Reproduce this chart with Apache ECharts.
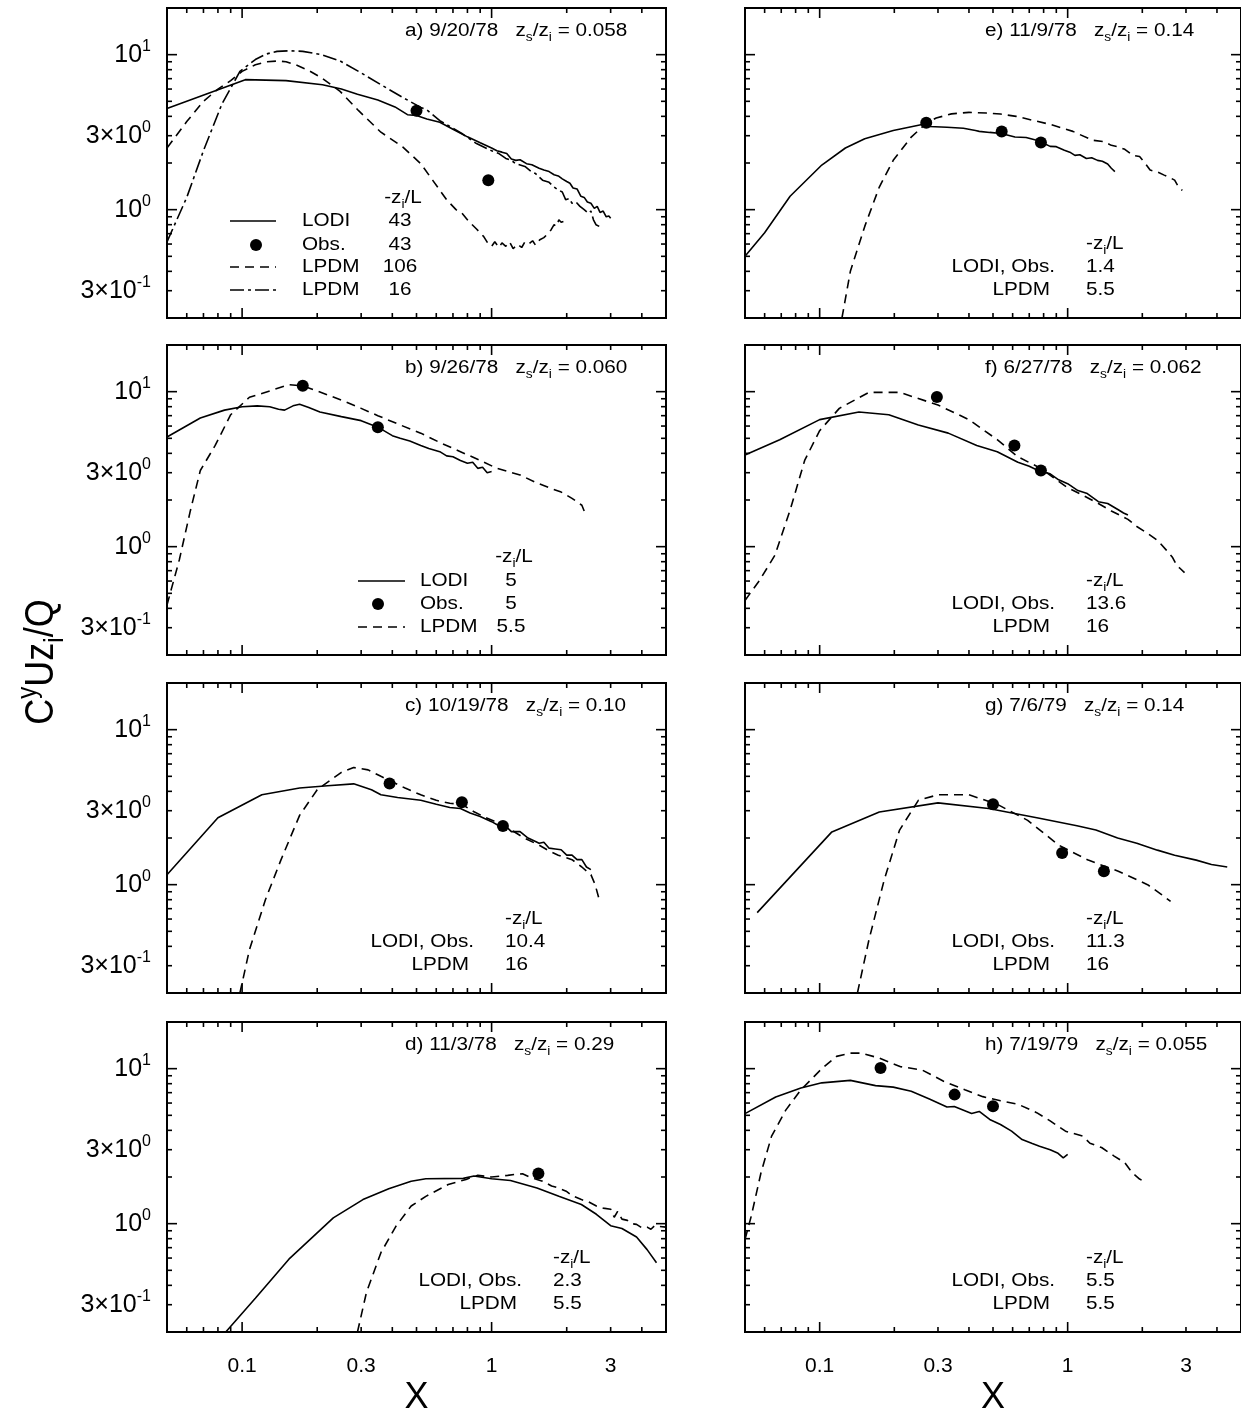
<!DOCTYPE html>
<html>
<head>
<meta charset="utf-8">
<script src="https://cdn.jsdelivr.net/npm/echarts@6/dist/echarts.min.js"></script>
<style>
html, body { margin: 0; padding: 0; background: #fff; }
#chart { width: 1241px; height: 1418px; }
</style>
</head>
<body>
<div id="chart"></div>
<script>
// values: [X, C^y U z_i / Q]
var aLodi = [[0.05,4.5],[0.103,6.9],[0.15,6.8],[0.21,6.4],[0.25,6.0],[0.29,5.55],[0.35,5.1],[0.41,4.6],[0.46,4.1],[0.5,4.05],[0.55,3.85],[0.62,3.66],[0.7,3.3],[0.8,2.95],[0.9,2.7],[1.0,2.5],[1.05,2.4],[1.1,2.35],[1.15,2.3],[1.2,2.12],[1.25,2.08],[1.3,2.1],[1.38,1.98],[1.45,1.95],[1.55,1.85],[1.62,1.8],[1.7,1.76],[1.78,1.68],[1.85,1.65],[1.92,1.58],[2.0,1.52],[2.06,1.48],[2.12,1.38],[2.2,1.36],[2.28,1.22],[2.35,1.2],[2.42,1.12],[2.5,1.1],[2.58,1.02],[2.65,1.05],[2.72,0.96],[2.8,0.98],[2.88,0.9],[2.95,0.91],[3.0,0.88]];
var aObs = [[0.5,4.35],[0.97,1.55]];
var aLpdm = [[0.05,2.5],[0.06,3.7],[0.07,5.0],[0.08,6.0],[0.09,6.8],[0.1,7.8],[0.113,8.6],[0.125,9.0],[0.138,9.1],[0.15,9.0],[0.164,8.6],[0.185,7.9],[0.208,7.1],[0.247,5.8],[0.293,4.35],[0.36,3.16],[0.44,2.54],[0.52,1.98],[0.58,1.55],[0.66,1.16],[0.72,1.0],[0.76,0.95],[0.81,0.84],[0.87,0.75],[0.93,0.67],[0.97,0.6],[1.0,0.58],[1.03,0.62],[1.07,0.57],[1.1,0.61],[1.14,0.58],[1.18,0.62],[1.22,0.56],[1.27,0.6],[1.32,0.57],[1.36,0.62],[1.41,0.6],[1.46,0.63],[1.5,0.59],[1.56,0.64],[1.62,0.66],[1.68,0.7],[1.73,0.74],[1.78,0.8],[1.82,0.78],[1.86,0.86],[1.9,0.83],[1.94,0.84]];
var aLpdm16 = [[0.05,0.62],[0.06,1.2],[0.07,2.4],[0.083,4.8],[0.098,7.8],[0.113,9.3],[0.125,10.1],[0.138,10.5],[0.155,10.6],[0.175,10.5],[0.208,10.0],[0.247,9.1],[0.293,7.8],[0.36,6.4],[0.44,5.3],[0.52,4.57],[0.55,4.4],[0.62,3.75],[0.7,3.35],[0.76,3.1],[0.87,2.67],[1.0,2.4],[1.07,2.3],[1.14,2.14],[1.2,2.08],[1.25,1.98],[1.36,1.9],[1.45,1.75],[1.5,1.71],[1.6,1.55],[1.7,1.5],[1.78,1.4],[1.85,1.34],[1.92,1.3],[1.98,1.16],[2.05,1.18],[2.1,1.1],[2.18,1.12],[2.26,1.05],[2.35,1.0],[2.44,0.95],[2.5,0.98],[2.56,0.86],[2.62,0.8],[2.7,0.78]];

var bLodi = [[0.05,5.1],[0.068,6.76],[0.085,7.6],[0.1,8.0],[0.115,8.1],[0.129,8.0],[0.14,7.7],[0.148,7.6],[0.16,8.1],[0.17,8.3],[0.185,7.9],[0.205,7.4],[0.25,6.9],[0.3,6.5],[0.35,5.9],[0.4,5.2],[0.43,5.0],[0.47,4.8],[0.52,4.5],[0.56,4.3],[0.62,4.1],[0.66,3.85],[0.7,3.8],[0.75,3.6],[0.8,3.45],[0.84,3.5],[0.88,3.2],[0.92,3.25],[0.96,3.0],[1.0,3.05]];
var bObs = [[0.175,10.9],[0.35,5.9]];
var bLpdm = [[0.05,0.42],[0.056,0.82],[0.062,1.7],[0.068,3.1],[0.078,4.5],[0.09,7.1],[0.107,9.2],[0.129,10.1],[0.154,11.1],[0.175,10.9],[0.2,10.1],[0.225,9.4],[0.26,8.6],[0.3,7.8],[0.35,7.0],[0.43,6.1],[0.52,5.4],[0.62,4.7],[0.75,4.1],[0.9,3.6],[1.05,3.2],[1.3,2.9],[1.5,2.6],[1.7,2.4],[1.9,2.25],[2.1,2.05],[2.2,1.95],[2.3,1.85],[2.35,1.7]];

var cLodi = [[0.05,1.16],[0.08,2.7],[0.12,3.8],[0.17,4.2],[0.22,4.35],[0.28,4.47],[0.33,4.1],[0.36,3.8],[0.42,3.65],[0.52,3.5],[0.6,3.3],[0.68,3.15],[0.75,3.1],[0.82,2.9],[0.9,2.75],[1.0,2.55],[1.07,2.4],[1.15,2.35],[1.2,2.2],[1.3,2.2],[1.4,2.0],[1.5,1.9],[1.55,1.85],[1.62,1.88],[1.7,1.72],[1.8,1.7],[1.9,1.68],[2.0,1.55],[2.1,1.55],[2.2,1.45],[2.3,1.45],[2.4,1.3],[2.5,1.25]];
var cObs = [[0.39,4.5],[0.76,3.4],[1.11,2.39]];
var cLpdm = [[0.098,0.2],[0.107,0.38],[0.124,0.8],[0.143,1.44],[0.17,2.8],[0.2,4.1],[0.25,5.3],[0.28,5.7],[0.32,5.5],[0.36,5.0],[0.39,4.7],[0.45,4.2],[0.52,3.8],[0.6,3.5],[0.68,3.35],[0.76,3.3],[0.85,2.95],[0.95,2.7],[1.07,2.5],[1.2,2.25],[1.35,2.0],[1.55,1.8],[1.7,1.65],[1.85,1.55],[2.1,1.45],[2.3,1.3],[2.5,1.16],[2.6,1.0],[2.7,0.8]];

var dLodi = [[0.086,0.2],[0.113,0.33],[0.154,0.59],[0.232,1.09],[0.305,1.43],[0.387,1.68],[0.476,1.88],[0.545,1.95],[0.77,1.96],[0.85,2.03],[1.0,1.95],[1.19,1.9],[1.52,1.7],[1.86,1.5],[2.29,1.33],[2.63,1.15],[3.0,0.97],[3.33,0.93],[3.81,0.82],[4.2,0.68],[4.58,0.56]];
var dObs = [[1.54,2.11]];
var dLpdm = [[0.29,0.2],[0.315,0.36],[0.36,0.65],[0.415,0.97],[0.476,1.3],[0.545,1.5],[0.67,1.79],[0.79,1.93],[0.88,2.05],[1.0,2.0],[1.1,2.03],[1.16,2.05],[1.25,2.08],[1.33,2.1],[1.42,2.0],[1.52,1.93],[1.6,1.88],[1.74,1.75],[1.85,1.7],[1.99,1.62],[2.1,1.52],[2.29,1.43],[2.45,1.38],[2.63,1.3],[2.8,1.26],[3.0,1.24],[3.1,1.1],[3.2,1.2],[3.33,1.07],[3.5,1.05],[3.65,1.0],[3.81,0.99],[4.0,0.94],[4.2,0.95],[4.35,0.92],[4.5,0.97],[4.7,0.96],[5.0,0.95]];

var eLodi = [[0.05,0.5],[0.06,0.71],[0.076,1.22],[0.102,1.94],[0.127,2.5],[0.152,2.87],[0.198,3.24],[0.259,3.54],[0.277,3.44],[0.326,3.4],[0.38,3.35],[0.425,3.24],[0.44,3.2],[0.485,3.15],[0.54,3.1],[0.613,2.94],[0.68,2.92],[0.75,2.8],[0.8,2.68],[0.85,2.56],[0.9,2.55],[0.97,2.42],[1.02,2.35],[1.07,2.24],[1.12,2.26],[1.19,2.14],[1.25,2.16],[1.32,2.08],[1.38,2.05],[1.45,1.97],[1.5,1.85],[1.55,1.76]];
var eObs = [[0.269,3.64],[0.542,3.19],[0.78,2.71]];
var eLpdm = [[0.123,0.2],[0.133,0.4],[0.152,0.78],[0.174,1.4],[0.198,2.08],[0.234,2.94],[0.269,3.6],[0.295,3.9],[0.34,4.15],[0.4,4.24],[0.47,4.2],[0.536,4.14],[0.62,4.0],[0.75,3.72],[0.85,3.55],[0.97,3.32],[1.05,3.2],[1.12,3.05],[1.27,2.8],[1.4,2.75],[1.5,2.6],[1.6,2.54],[1.7,2.45],[1.83,2.24],[1.95,2.2],[2.05,2.0],[2.15,1.8],[2.3,1.75],[2.45,1.67],[2.6,1.6],[2.7,1.55],[2.8,1.4],[2.9,1.33]];

var fLodi = [[0.05,3.9],[0.069,4.9],[0.1,6.6],[0.144,7.4],[0.19,7.1],[0.25,6.1],[0.33,5.4],[0.43,4.5],[0.52,4.1],[0.63,3.5],[0.7,3.3],[0.76,3.1],[0.85,2.95],[0.92,2.7],[1.0,2.55],[1.1,2.3],[1.2,2.2],[1.33,1.95],[1.45,1.9],[1.6,1.73],[1.68,1.65],[1.75,1.6]];
var fObs = [[0.297,9.25],[0.61,4.5],[0.78,3.1]];
var fLpdm = [[0.05,0.45],[0.057,0.6],[0.066,0.88],[0.076,1.72],[0.087,3.6],[0.1,5.6],[0.12,7.8],[0.158,9.9],[0.21,9.9],[0.3,8.2],[0.4,6.6],[0.52,4.9],[0.63,3.8],[0.78,3.2],[0.9,2.7],[1.0,2.4],[1.15,2.15],[1.33,1.9],[1.5,1.7],[1.75,1.5],[1.9,1.35],[2.05,1.25],[2.3,1.1],[2.5,0.95],[2.65,0.85],[2.75,0.76],[2.85,0.72],[2.96,0.68]];

var gLodi = [[0.056,0.66],[0.112,2.19],[0.174,2.94],[0.3,3.37],[0.48,3.1],[0.76,2.69],[1.09,2.4],[1.3,2.25],[1.59,2.0],[1.9,1.85],[2.3,1.67],[2.7,1.55],[3.3,1.44],[3.8,1.35],[4.4,1.3]];
var gObs = [[0.5,3.3],[0.95,1.6],[1.4,1.22]];
var gLpdm = [[0.142,0.2],[0.158,0.44],[0.182,1.07],[0.21,2.25],[0.25,3.5],[0.3,3.8],[0.4,3.8],[0.52,3.3],[0.69,2.6],[0.92,1.8],[1.21,1.44],[1.6,1.22],[2.1,1.0],[2.4,0.86],[2.6,0.78]];

var hLodi = [[0.05,5.13],[0.0665,6.57],[0.084,7.5],[0.102,8.1],[0.133,8.4],[0.168,7.77],[0.198,7.6],[0.234,7.15],[0.277,6.38],[0.326,5.66],[0.349,5.7],[0.41,5.13],[0.44,5.3],[0.485,4.7],[0.536,4.36],[0.594,3.95],[0.655,3.49],[0.72,3.29],[0.77,3.16],[0.85,3.0],[0.91,2.86],[0.96,2.66],[1.0,2.8]];
var hObs = [[0.176,10.1],[0.35,6.8],[0.5,5.72]];
var hLpdm = [[0.05,0.79],[0.053,1.12],[0.058,2.13],[0.064,3.67],[0.073,5.4],[0.084,7.3],[0.102,10.0],[0.117,12.0],[0.133,12.6],[0.147,12.6],[0.174,11.7],[0.212,10.3],[0.259,9.8],[0.316,8.3],[0.385,7.3],[0.455,6.6],[0.536,6.2],[0.63,5.9],[0.75,5.2],[0.85,4.6],[0.98,3.95],[1.15,3.67],[1.23,3.3],[1.37,3.1],[1.54,2.73],[1.7,2.47],[1.82,2.13],[1.95,1.94],[2.05,1.86]];

// axes
var xTickLabels = [0.1, 0.3, 1, 3];
var xTickText = ['0.1', '0.3', '1', '3'];
var yTickLabels = [0.3, 1, 3, 10];
var yTickText = ['{n|3\u00d710}{p|-1}', '{n|10}{p|0}', '{n|3\u00d710}{p|0}', '{n|10}{p|1}'];
var xMajor = [0.1, 1];
var xMinor = [0.06, 0.07, 0.08, 0.09, 0.2, 0.3, 0.4, 0.5, 0.6, 0.7, 0.8, 0.9, 2, 3, 4];
var yMajor = [1, 10];
var yMinor = [0.3, 0.4, 0.5, 0.6, 0.7, 0.8, 0.9, 2, 3, 4, 5, 6, 7, 8, 9];

var panels = [
  {key: 'a', date: '9/20/78', zs: '0.058', lodi: aLodi, obs: aObs, lpdm: aLpdm, lpdm2: aLpdm16, ziL: ['43', '43', '106', '16']},
  {key: 'b', date: '9/26/78', zs: '0.060', lodi: bLodi, obs: bObs, lpdm: bLpdm, ziL: ['5', '5', '5.5']},
  {key: 'c', date: '10/19/78', zs: '0.10', lodi: cLodi, obs: cObs, lpdm: cLpdm, ziL: ['10.4', '16']},
  {key: 'd', date: '11/3/78', zs: '0.29', lodi: dLodi, obs: dObs, lpdm: dLpdm, ziL: ['2.3', '5.5']},
  {key: 'e', date: '11/9/78', zs: '0.14', lodi: eLodi, obs: eObs, lpdm: eLpdm, ziL: ['1.4', '5.5']},
  {key: 'f', date: '6/27/78', zs: '0.062', lodi: fLodi, obs: fObs, lpdm: fLpdm, ziL: ['13.6', '16']},
  {key: 'g', date: '7/6/79', zs: '0.14', lodi: gLodi, obs: gObs, lpdm: gLpdm, ziL: ['11.3', '16']},
  {key: 'h', date: '7/19/79', zs: '0.055', lodi: hLodi, obs: hObs, lpdm: hLpdm, ziL: ['5.5', '5.5']}
];

var FONT = '"Liberation Sans", Arial, Helvetica, sans-serif';
var colLeft = [167, 745];
var rowTop = [8, 345, 683, 1022];
var W = 499, H = 310;
var SX = 1.15;
var DASH = [9, 6];
var DASHDOT = [14, 4, 3, 4];

var RICH = {
  t: {fontSize: 18, fontFamily: FONT, lineHeight: 26},
  s: {fontSize: 12, fontFamily: FONT, lineHeight: 26, verticalAlign: 'bottom'},
  p: {fontSize: 12, fontFamily: FONT, lineHeight: 26, verticalAlign: 'top'}
};

function text(x, y, str, align) {
  return {
    type: 'text', x: x, y: y, scaleX: SX, silent: true, z: 20,
    style: {text: str, rich: RICH, fill: '#000', font: '18px ' + FONT, align: align || 'left', verticalAlign: 'middle'}
  };
}
function seg(x1, y, x2, dash) {
  return {type: 'line', silent: true, z: 20, shape: {x1: x1, y1: y, x2: x2, y2: y},
    style: {stroke: '#000', lineWidth: 1.6, lineDash: dash || null}};
}
function pick(list, texts, v) {
  for (var k = 0; k < list.length; k++) {
    if (Math.abs(list[k] - v) < 1e-6 * list[k]) return texts[k];
  }
  return '';
}

var tickData = [];
xMajor.forEach(function (v) { tickData.push([v, 1, 0]); });
xMinor.forEach(function (v) { tickData.push([v, 1, 1]); });
yMajor.forEach(function (v) { tickData.push([1, v, 2]); });
yMinor.forEach(function (v) { tickData.push([1, v, 3]); });

function renderTick(params, api) {
  var kind = api.value(2);
  var len = (kind === 0 || kind === 2) ? 10 : 5;
  var segs;
  if (kind < 2) {
    var b = api.coord([api.value(0), 0.2]), t = api.coord([api.value(0), 20]);
    segs = [[b[0], b[1], b[0], b[1] - len], [t[0], t[1], t[0], t[1] + len]];
  } else {
    var l = api.coord([0.05, api.value(1)]), r = api.coord([5, api.value(1)]);
    segs = [[l[0], l[1], l[0] + len, l[1]], [r[0], r[1], r[0] - len, r[1]]];
  }
  return {
    type: 'group',
    children: segs.map(function (s) {
      return {type: 'line', shape: {x1: s[0], y1: s[1], x2: s[2], y2: s[3]}, style: {stroke: '#000', lineWidth: 1.6}};
    })
  };
}

var grids = [], xAxes = [], yAxes = [], series = [], graphics = [];

panels.forEach(function (p, i) {
  var col = i < 4 ? 0 : 1, row = i % 4;
  var L = colLeft[col], T = rowTop[row];
  grids.push({left: L, top: T, width: W, height: H, show: true, borderColor: '#000', borderWidth: 2, backgroundColor: 'transparent'});
  xAxes.push({
    type: 'log', logBase: 10, gridIndex: i, min: 0.05, max: 5,
    axisLine: {show: false}, axisTick: {show: false}, splitLine: {show: false},
    name: row === 3 ? 'X' : '', nameLocation: 'middle', nameGap: 48,
    nameTextStyle: {fontSize: 36, fontFamily: FONT, color: '#000'},
    axisLabel: {
      show: row === 3, customValues: xTickLabels, margin: 24, color: '#000', fontSize: 21, fontFamily: FONT,
      formatter: function (v) { return pick(xTickLabels, xTickText, v); }
    }
  });
  yAxes.push({
    type: 'log', logBase: 10, gridIndex: i, min: 0.2, max: 20,
    axisLine: {show: false}, axisTick: {show: false}, splitLine: {show: false},
    axisLabel: {
      show: col === 0, customValues: yTickLabels, margin: 16, color: '#000',
      formatter: function (v) { return pick(yTickLabels, yTickText, v); },
      rich: {
        n: {fontSize: 25, fontFamily: FONT, color: '#000', lineHeight: 32},
        p: {fontSize: 16, fontFamily: FONT, color: '#000', lineHeight: 32, verticalAlign: 'top'}
      }
    }
  });

  series.push({type: 'custom', xAxisIndex: i, yAxisIndex: i, data: tickData, renderItem: renderTick,
    encode: {x: 0, y: 1}, silent: true, clip: false, z: 10});
  series.push({type: 'line', xAxisIndex: i, yAxisIndex: i, data: p.lodi, symbol: 'none', silent: true,
    lineStyle: {color: '#000', width: 1.6}});
  series.push({type: 'line', xAxisIndex: i, yAxisIndex: i, data: p.lpdm, symbol: 'none', silent: true,
    lineStyle: {color: '#000', width: 1.6, type: DASH}});
  if (p.lpdm2) {
    series.push({type: 'line', xAxisIndex: i, yAxisIndex: i, data: p.lpdm2, symbol: 'none', silent: true,
      lineStyle: {color: '#000', width: 1.6, type: DASHDOT}});
  }
  series.push({type: 'scatter', xAxisIndex: i, yAxisIndex: i, data: p.obs, symbol: 'circle', symbolSize: 12,
    silent: true, itemStyle: {color: '#000', opacity: 1}, z: 4});

  // panel title
  graphics.push(text(col ? 985 : 405, T + 23,
    '{t|' + p.key + ') ' + p.date + '   z}{s|s}{t|/z}{s|i}{t| = ' + p.zs + '}'));

  // -zi/L tables
  if (p.key === 'a') {
    graphics.push(text(403, T + 190, '{t|-z}{s|i}{t|/L}', 'center'));
    var names = ['LODI', 'Obs.', 'LPDM', 'LPDM'];
    var ys = [213, 237, 259, 282];
    names.forEach(function (nm, k) {
      graphics.push(text(302, T + ys[k], '{t|' + nm + '}'));
      graphics.push(text(400, T + ys[k], '{t|' + p.ziL[k] + '}', 'center'));
    });
    graphics.push(seg(230, T + ys[0], 276));
    graphics.push({type: 'circle', silent: true, z: 20, shape: {cx: 256, cy: T + ys[1], r: 6}, style: {fill: '#000'}});
    graphics.push(seg(230, T + ys[2], 276, DASH));
    graphics.push(seg(230, T + ys[3], 276, DASHDOT));
  } else if (p.key === 'b') {
    graphics.push(text(514, T + 212, '{t|-z}{s|i}{t|/L}', 'center'));
    var names2 = ['LODI', 'Obs.', 'LPDM'];
    var ys2 = [236, 259, 282];
    names2.forEach(function (nm, k) {
      graphics.push(text(420, T + ys2[k], '{t|' + nm + '}'));
      graphics.push(text(511, T + ys2[k], '{t|' + p.ziL[k] + '}', 'center'));
    });
    graphics.push(seg(358, T + ys2[0], 405));
    graphics.push({type: 'circle', silent: true, z: 20, shape: {cx: 378, cy: T + ys2[1], r: 6}, style: {fill: '#000'}});
    graphics.push(seg(358, T + ys2[2], 405, DASH));
  } else {
    var numX = col ? 1086 : (p.key === 'c' ? 505 : 553);
    var endX = numX - 31;
    graphics.push(text(numX, T + 236, '{t|-z}{s|i}{t|/L}'));
    graphics.push(text(endX, T + 259, '{t|LODI, Obs.}', 'right'));
    graphics.push(text(numX, T + 259, '{t|' + p.ziL[0] + '}'));
    graphics.push(text(endX - 5, T + 282, '{t|LPDM}', 'right'));
    graphics.push(text(numX, T + 282, '{t|' + p.ziL[1] + '}'));
  }
});

// y axis title
graphics.push({
  type: 'text', x: 42, y: 662, rotation: Math.PI / 2, scaleY: SX, silent: true,
  style: {
    text: '{t|C}{p|y}{t|Uz}{s|i}{t|/Q}', fill: '#000', align: 'center', verticalAlign: 'middle',
    font: '36px ' + FONT,
    rich: {
      t: {fontSize: 36, fontFamily: FONT, lineHeight: 48},
      s: {fontSize: 24, fontFamily: FONT, lineHeight: 48, verticalAlign: 'bottom'},
      p: {fontSize: 24, fontFamily: FONT, lineHeight: 48, verticalAlign: 'top'}
    }
  }
});

var chart = echarts.init(document.getElementById('chart'), null, {renderer: 'canvas'});
chart.setOption({
  animation: false,
  backgroundColor: '#fff',
  grid: grids,
  xAxis: xAxes,
  yAxis: yAxes,
  series: series,
  graphic: {elements: graphics}
});
</script>
</body>
</html>
